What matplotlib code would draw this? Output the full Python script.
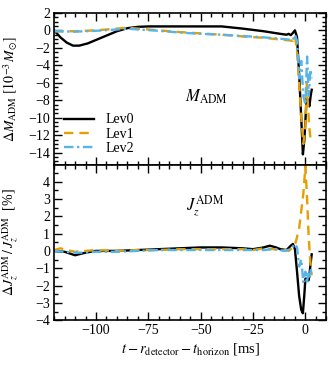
import matplotlib
matplotlib.use("Agg")
import matplotlib.pyplot as plt
from matplotlib.ticker import MultipleLocator

plt.rcParams['font.family'] = ['Liberation Serif', 'DejaVu Serif']
plt.rcParams['mathtext.fontset'] = 'stix'
plt.rcParams['font.size'] = 10

# ---- data: M_ADM (top panel) ----
m_lev0_t = [-120, -117, -114, -111, -108, -104, -100, -95, -90, -85, -80, -75, -70, -60, -50, -40, -30, -20, -12, -9, -8, -7, -6, -5, -4, -3, -2, -1.2, -0.5, 0.6, 1.2, 1.9, 2.5, 3.0]
m_lev0_v = [0.0, -0.8, -1.4, -1.75, -1.75, -1.5, -1.1, -0.6, -0.1, 0.25, 0.4, 0.45, 0.45, 0.45, 0.45, 0.45, 0.2, -0.1, -0.4, -0.5, -0.4, -0.55, -0.3, 0.0, -0.8, -5.0, -10.0, -14.2, -12.5, -7.7, -8.0, -8.7, -7.5, -6.8]

m_lev1_t = [-120, -110, -100, -90, -85, -80, -70, -60, -50, -40, -30, -20, -10, -6, -5, -4, -3, -2, -1, 0, 0.6, 1.2, 1.8, 2.4]
m_lev1_v = [-0.1, -0.1, 0.0, 0.2, 0.3, 0.2, 0.0, -0.2, -0.35, -0.5, -0.7, -0.85, -1.1, -1.2, -0.6, -2.5, -6.0, -10.0, -13.0, -11.0, -6.0, -8.5, -11.0, -12.3]

m_lev2_t = [-120, -110, -100, -90, -85, -80, -70, -60, -50, -40, -30, -20, -10, -6, -5, -4, -3, -2, -1, 0, 0.8, 1.6, 2.4, 3.0]
m_lev2_v = [-0.1, -0.15, -0.05, 0.1, 0.2, 0.1, -0.05, -0.25, -0.4, -0.5, -0.65, -0.8, -1.0, -1.1, -0.5, -1.2, -5.5, -3.5, -7.5, -8.5, -3.0, -7.5, -4.5, -5.5]

# ---- data: J_z^ADM (bottom panel) ----
j_lev0_t = [-120, -115, -110, -105, -100, -90, -80, -70, -60, -50, -40, -30, -25, -20, -17, -14, -12, -9, -7, -6, -5, -4, -3, -2, -1.2, -0.5, 0, 0.8, 1.5, 2.0, 2.5, 3.0]
j_lev0_v = [0.0, -0.05, -0.25, -0.1, 0.0, 0.0, 0.05, 0.1, 0.15, 0.2, 0.2, 0.15, 0.1, 0.2, 0.3, 0.2, 0.1, 0.05, 0.3, 0.4, 0.1, -1.2, -2.6, -3.4, -3.6, -2.5, -1.6, -1.6, -1.7, -1.3, -0.7, -0.2]

j_lev1_t = [-120, -117, -114, -110, -105, -100, -90, -80, -70, -60, -50, -40, -30, -25, -20, -15, -10, -8, -6, -5, -4, -3, -2, -1, 0, 0.8, 1.5, 2.2, 3.0]
j_lev1_v = [0.05, 0.15, 0.05, -0.05, 0.0, 0.05, 0.0, 0.05, 0.05, 0.1, 0.1, 0.1, 0.1, 0.05, 0.15, 0.1, 0.05, 0.0, 0.2, 0.35, 0.8, 1.3, 2.3, 3.3, 4.9, 3.0, 1.0, -0.4, -1.4]

j_lev2_t = [-120, -115, -110, -105, -100, -90, -80, -70, -60, -50, -40, -30, -20, -15, -10, -7, -5, -4, -3, -2, -1, 0, 0.7, 1.4, 2.0, 2.6, 3.0]
j_lev2_v = [0.0, -0.05, -0.1, -0.1, -0.05, -0.05, 0.0, 0.05, 0.05, 0.05, 0.05, 0.05, 0.05, 0.1, 0.0, 0.1, 0.4, 0.2, -0.9, -0.5, -1.8, -1.2, -1.9, -1.2, -1.6, -1.1, -1.4]

levels = ['Lev0', 'Lev1', 'Lev2']
colors = ['black', '#E69F00', '#56B4E9']
styles = ['-', (0, (4, 2.5)), (0, (4, 1.5, 1, 1.5))]
widths = [1.7, 1.7, 1.7]

fig = plt.figure(figsize=(3.32, 3.68), dpi=100)
ax1 = fig.add_axes([0.163, 0.552, 0.82, 0.413])
ax2 = fig.add_axes([0.163, 0.130, 0.82, 0.422], sharex=ax1)

m_data = [(m_lev0_t, m_lev0_v), (m_lev1_t, m_lev1_v), (m_lev2_t, m_lev2_v)]
j_data = [(j_lev0_t, j_lev0_v), (j_lev1_t, j_lev1_v), (j_lev2_t, j_lev2_v)]

for i in range(3):
    ax1.plot(m_data[i][0], m_data[i][1], color=colors[i], ls=styles[i], lw=widths[i], label=levels[i])
    ax2.plot(j_data[i][0], j_data[i][1], color=colors[i], ls=styles[i], lw=widths[i], label=levels[i])

ax1.set_xlim(-120, 10)
ax1.set_ylim(-15.4, 2)
ax2.set_ylim(-4, 4.97)

ax1.yaxis.set_major_locator(MultipleLocator(2))
ax1.yaxis.set_minor_locator(MultipleLocator(0.5))
ax2.yaxis.set_major_locator(MultipleLocator(1))
ax2.yaxis.set_minor_locator(MultipleLocator(0.5))
ax2.xaxis.set_major_locator(MultipleLocator(25))
ax2.xaxis.set_minor_locator(MultipleLocator(5))

for ax in (ax1, ax2):
    ax.tick_params(which='both', direction='in', top=True, right=True, width=1.0, labelsize=10)
    ax.tick_params(which='major', length=6, pad=3)
    ax.tick_params(which='minor', length=3)
    for s in ax.spines.values():
        s.set_linewidth(1.2)
    ax.yaxis.set_label_coords(-0.125, 0.5)

ax1.tick_params(labelbottom=False)
ax1.set_ylabel(r'$\Delta M_{\rm ADM}$ $[10^{-3}\,M_{\odot}]$', fontsize=10)
ax2.set_ylabel(r'$\Delta J_z^{\rm ADM}\,/\,J_z^{\rm ADM}$  [%]', fontsize=10)
ax2.set_xlabel(r'$t - r_{\rm detector} - t_{\rm horizon}$ [ms]', fontsize=10.5, labelpad=3)

ax1.text(-47, -7.6, r'$M_{\rm ADM}$', fontsize=12, ha='center', va='center')
ax2.text(-48, 2.6, r'$J_z^{\rm ADM}$', fontsize=12, ha='center', va='center')

ax1.legend(loc='lower left', frameon=False, fontsize=10, handlelength=2.2,
           borderaxespad=0.3, labelspacing=0.1, handletextpad=0.8,
           bbox_to_anchor=(0.0, 0.0))

fig.savefig('out.png', dpi=100)
